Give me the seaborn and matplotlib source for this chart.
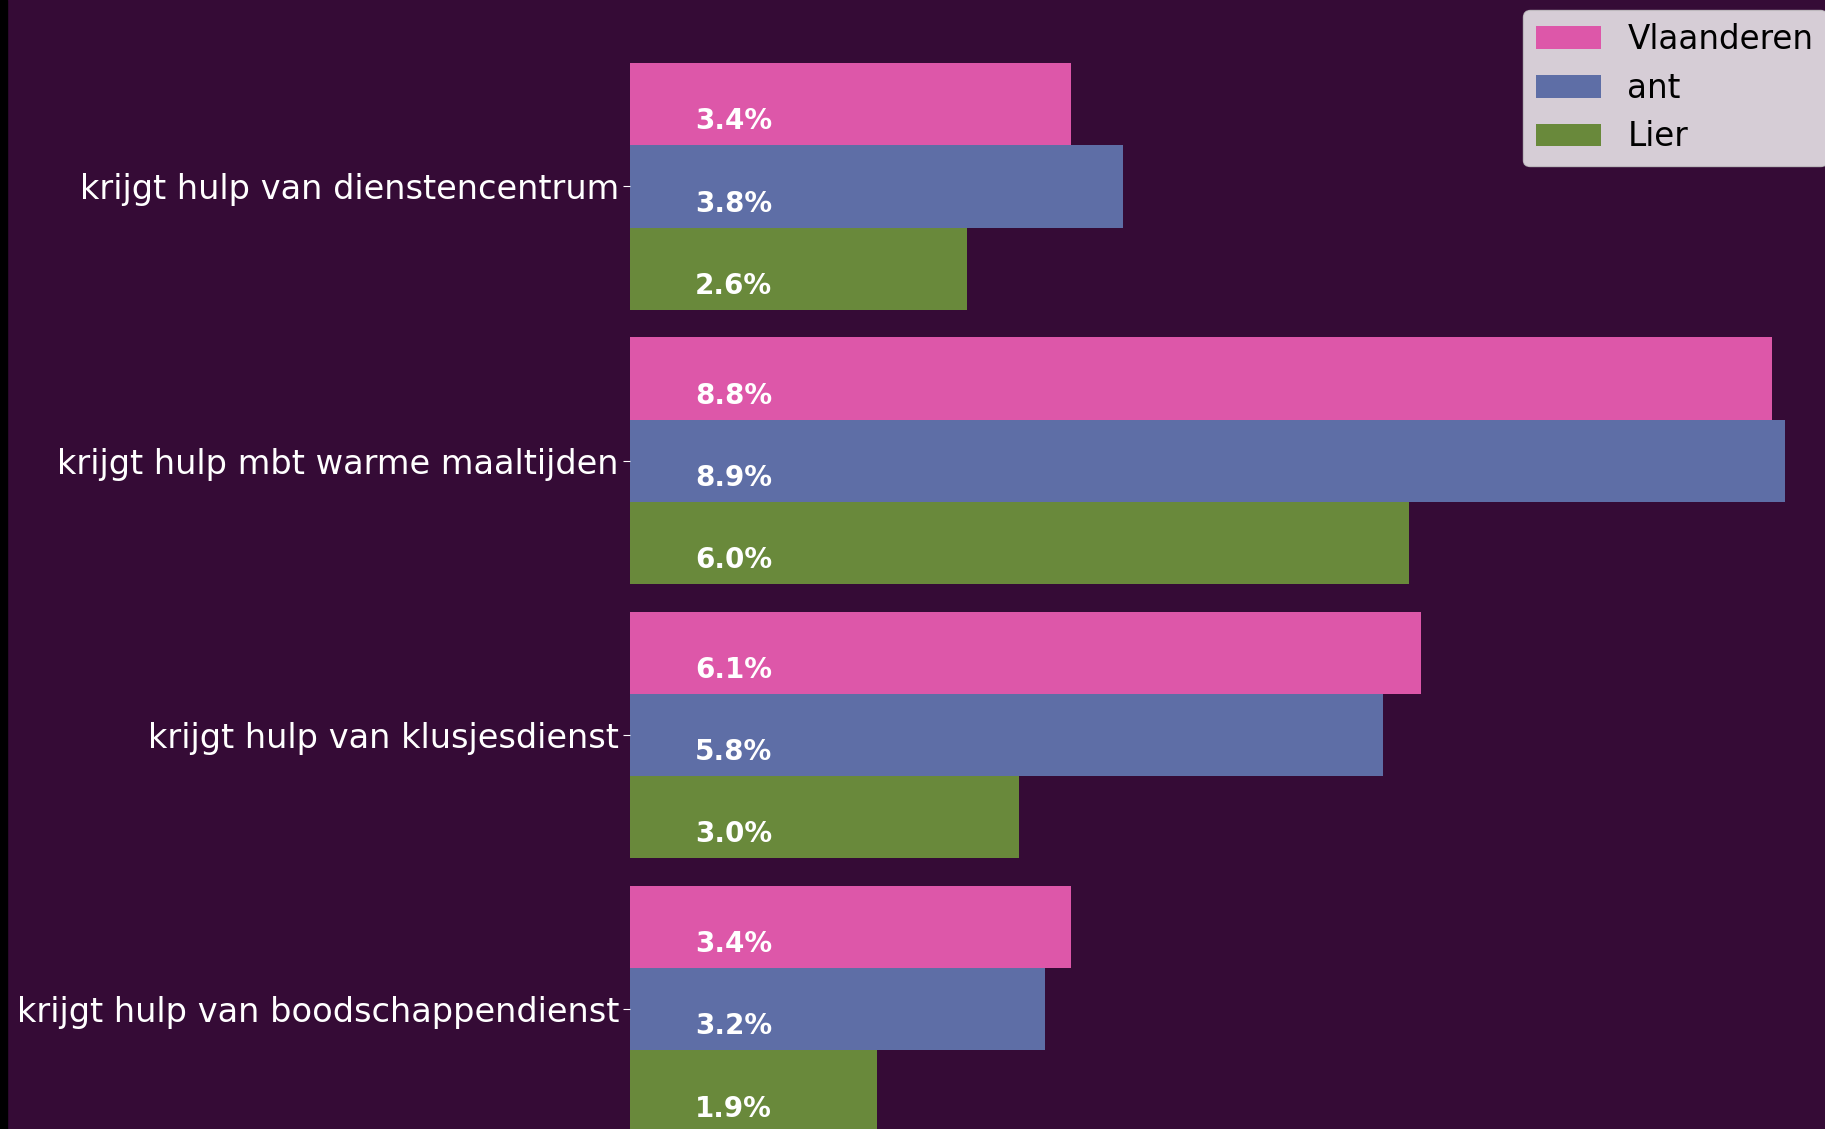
import pandas as pd
import seaborn as sns
import matplotlib.pyplot as plt
from matplotlib.patches import Rectangle

# Data
categories = ['krijgt hulp van dienstencentrum',
              'krijgt hulp mbt warme maaltijden',
              'krijgt hulp van klusjesdienst',
              'krijgt hulp van boodschappendienst']
regions = ['Vlaanderen', 'ant', 'Lier']
vlaanderen = [3.4, 8.8, 6.1, 3.4]
ant = [3.8, 8.9, 5.8, 3.2]
lier = [2.6, 6.0, 3.0, 1.9]

colors = {'Vlaanderen': '#DD57A9', 'ant': '#5E6EA6', 'Lier': '#69893B'}
bg = '#350B36'

# Long format for seaborn
rows = []
for region, values in zip(regions, [vlaanderen, ant, lier]):
    for cat, v in zip(categories, values):
        rows.append({'Categorie': cat, 'Regio': region, 'Percentage': v})
df = pd.DataFrame(rows)

fig = plt.figure(figsize=(18.25, 11.29), dpi=100)
fig.patch.set_facecolor(bg)
ax = fig.add_axes([630 / 1825, 0, 1 - 630 / 1825, 1])
ax.set_facecolor(bg)

sns.barplot(data=df, y='Categorie', x='Percentage', hue='Regio',
            hue_order=regions, palette=colors, orient='h',
            width=0.9, saturation=1, ax=ax)

ax.set_xlim(0, 9.21)
ax.set_ylim(3.437, -0.680)
ax.set_xlabel('')
ax.set_ylabel('')
ax.set_xticks([])
for s in ax.spines.values():
    s.set_visible(False)
ax.tick_params(axis='y', colors='white', labelsize=24.2, length=5, pad=3)

# Value labels inside the bars, near the left
for container, values in zip(ax.containers, [vlaanderen, ant, lier]):
    for bar, v in zip(container, values):
        yc = bar.get_y() + bar.get_height() / 2
        ax.text(0.5, yc + 0.063, f'{v:.1f}%', color='white', fontsize=20,
                fontweight='bold', ha='left', va='center')

leg = ax.legend(loc='upper left', bbox_to_anchor=(1523 / 1825, 1 - 10 / 1129),
                bbox_transform=fig.transFigure, borderaxespad=0, fontsize=23.5,
                labelspacing=0.48, title=None)

# thin dark strip on the left edge of the screenshot
fig.add_artist(Rectangle((0, 0), 7 / 1825, 1, transform=fig.transFigure,
                         color='black', zorder=10))

fig.savefig('out.png', dpi=100, facecolor=bg)
